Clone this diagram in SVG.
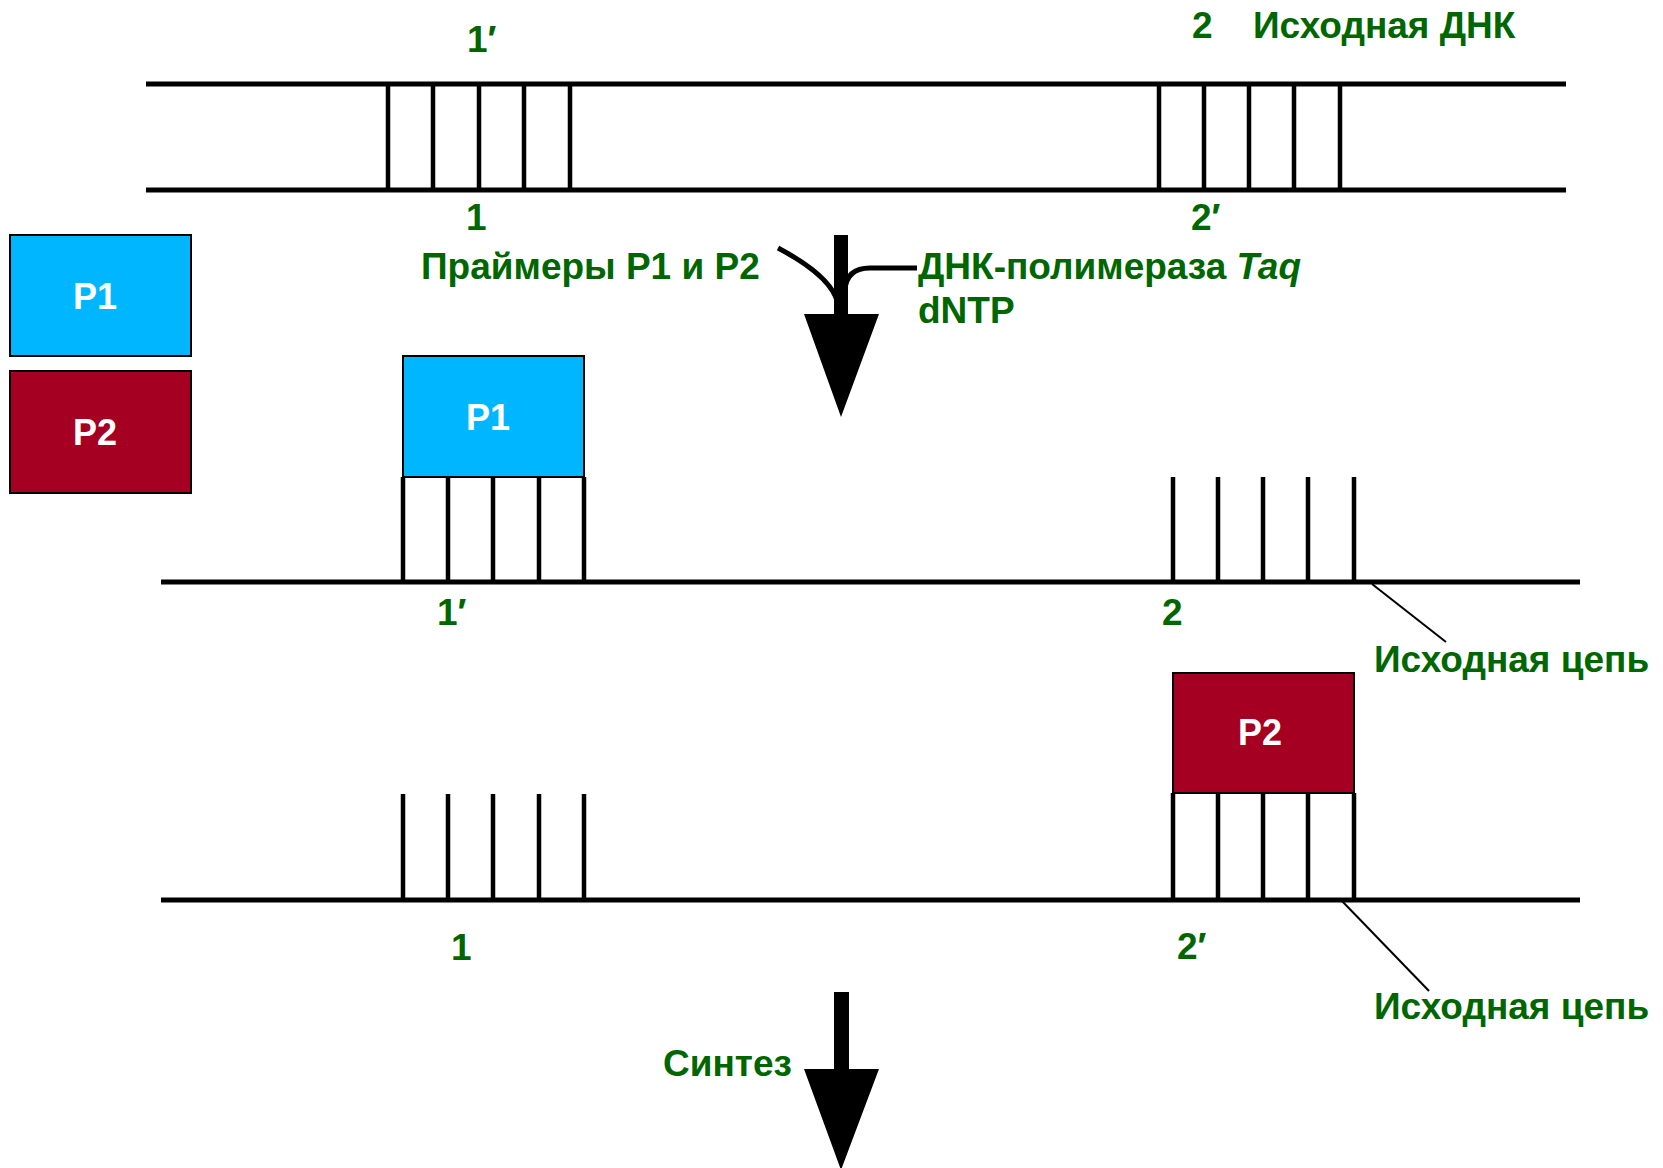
<svg xmlns="http://www.w3.org/2000/svg" width="1663" height="1168" viewBox="0 0 1663 1168">
<style>
.t{font-family:"Liberation Sans",Arial,sans-serif;font-weight:bold;font-size:37px;fill:#006600}
.w{font-family:"Liberation Sans",Arial,sans-serif;font-weight:bold;font-size:36px;fill:#ffffff;text-anchor:middle}
.s{stroke:#000;stroke-width:5;fill:none}
.r{stroke:#000;stroke-width:4.5;fill:none}
.p{stroke:#000;stroke-width:2;fill:none}
.b1{fill:#00B7FF;stroke:#000;stroke-width:2}
.b2{fill:#A50021;stroke:#000;stroke-width:2}
</style>
<rect width="1663" height="1168" fill="#fff"/>
<g id="dna-top">
<line class="s" x1="146" y1="84" x2="1566" y2="84"/>
<line class="s" x1="146" y1="190" x2="1566" y2="190"/>
<path class="r" d="M388 84V190M433 84V190M479 84V190M524 84V190M570 84V190"/>
<path class="r" d="M1159 84V190M1204 84V190M1249 84V190M1294 84V190M1340 84V190"/>
<text class="t" x="467" y="52">1′</text>
<text class="t" x="466" y="230">1</text>
<text class="t" x="1192" y="38">2</text>
<text class="t" x="1253" y="38">Исходная ДНК</text>
<text class="t" x="1191" y="230">2′</text>
</g>
<g id="legend-p1"><rect class="b1" x="10" y="235" width="181" height="121"/><text class="w" x="95" y="309">P1</text></g>
<g id="legend-p2"><rect class="b2" x="10" y="371" width="181" height="122"/><text class="w" x="95" y="445">P2</text></g>
<g id="step1-labels">
<text class="t" x="421" y="279">Праймеры P1 и P2</text>
<text class="t" x="918" y="279">ДНК-полимераза <tspan font-style="italic">Taq</tspan></text>
<text class="t" x="918" y="323">dNTP</text>
</g>
<g id="strand-mid">
<line class="s" x1="161" y1="582" x2="1580" y2="582"/>
<path class="r" d="M403 477V582M448 477V582M493 477V582M539 477V582M584 477V582"/>
<path class="r" d="M1173 477V582M1218 477V582M1263 477V582M1308 477V582M1354 477V582"/>
<text class="t" x="437" y="625">1′</text>
<text class="t" x="1162" y="625">2</text>
<text class="t" x="1374" y="672">Исходная цепь</text>
</g>
<g id="primer-p1"><rect class="b1" x="403" y="356" width="181" height="121"/><text class="w" x="488" y="430">P1</text></g>
<g id="primer-p2"><rect class="b2" x="1173" y="673" width="181" height="120"/><text class="w" x="1260" y="745">P2</text></g>
<g id="strand-bottom">
<line class="s" x1="161" y1="900" x2="1580" y2="900"/>
<path class="r" d="M403 794V900M448 794V900M493 794V900M539 794V900M584 794V900"/>
<path class="r" d="M1173 793V900M1218 793V900M1263 793V900M1308 793V900M1354 793V900"/>
<text class="t" x="451" y="960">1</text>
<text class="t" x="1177" y="959">2′</text>
<text class="t" x="1374" y="1019">Исходная цепь</text>
<text class="t" x="663" y="1076">Синтез</text>
</g>
<g id="connectors">
<path d="M834 235H848V314H879L841 417L804 314H834Z" fill="#000"/>
<path class="s" d="M778 248C812 266 834 284 838 304"/>
<path class="s" d="M845 290C846 276 854 268 870 268L917 268"/>
<line class="p" x1="1372" y1="584" x2="1446" y2="642"/>
<line class="p" x1="1342" y1="901" x2="1429" y2="991"/>
<path d="M834 992H849V1069H879L841 1170L804 1069H834Z" fill="#000"/>
</g>
</svg>
